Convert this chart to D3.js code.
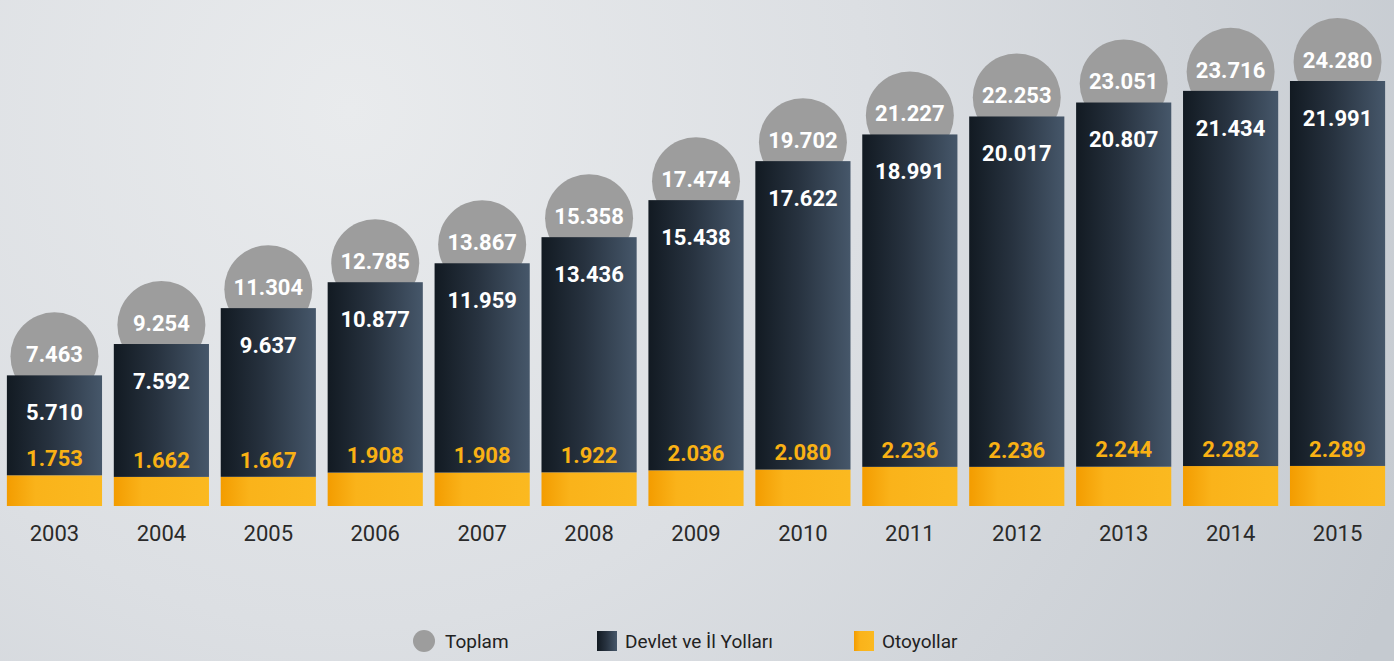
<!DOCTYPE html>
<html lang="tr">
<head>
<meta charset="utf-8">
<script src="https://cdn.jsdelivr.net/npm/d3@7"></script>
<style>
    html, body { margin: 0; padding: 0; }
    body { width: 1394px; height: 661px; overflow: hidden; }
    svg text { font-family: Roboto, "Open Sans", sans-serif; }
</style>
</head>
<body>
<div id="chart"></div>
<script>
const years = ["2003", "2004", "2005", "2006", "2007", "2008", "2009", "2010", "2011", "2012", "2013", "2014", "2015"];
const devletYollari = [5710, 7592, 9637, 10877, 11959, 13436, 15438, 17622, 18991, 20017, 20807, 21434, 21991];
const otoyollar = [1753, 1662, 1667, 1908, 1908, 1922, 2036, 2080, 2236, 2236, 2244, 2282, 2289];
const toplam = [7463, 9254, 11304, 12785, 13867, 15358, 17474, 19702, 21227, 22253, 23051, 23716, 24280];
const legendLabels = ["Toplam", "Devlet ve İl Yolları", "Otoyollar"];

const data = years.map((year, i) => ({
    year,
    otoyol: otoyollar[i],
    devlet: devletYollari[i],
    toplam: toplam[i]
}));

const width = 1394;
const height = 661;
const baseY = 506;

const fmt = d3.formatLocale({ decimal: ",", thousands: ".", grouping: [3], currency: ["", ""] }).format(",d");

const svg = d3.select("#chart").append("svg")
    .attr("width", width)
    .attr("height", height)
    .attr("viewBox", `0 0 ${width} ${height}`);

const defs = svg.append("defs");

const bg = defs.append("radialGradient")
    .attr("id", "bg")
    .attr("gradientUnits", "userSpaceOnUse")
    .attr("cx", 350).attr("cy", 110).attr("r", 1150);
bg.append("stop").attr("offset", "0%").attr("stop-color", "#e9ebed");
bg.append("stop").attr("offset", "45%").attr("stop-color", "#dcdfe3");
bg.append("stop").attr("offset", "100%").attr("stop-color", "#c5cad0");

const darkGrad = defs.append("linearGradient").attr("id", "dark");
darkGrad.append("stop").attr("offset", "0%").attr("stop-color", "#121a22");
darkGrad.append("stop").attr("offset", "45%").attr("stop-color", "#27323f");
darkGrad.append("stop").attr("offset", "100%").attr("stop-color", "#46576a");

const orangeGrad = defs.append("linearGradient").attr("id", "orange");
orangeGrad.append("stop").attr("offset", "0%").attr("stop-color", "#f39c00");
orangeGrad.append("stop").attr("offset", "30%").attr("stop-color", "#fab31a");
orangeGrad.append("stop").attr("offset", "100%").attr("stop-color", "#fbb920");

svg.append("rect")
    .attr("width", width)
    .attr("height", height)
    .attr("fill", "url(#bg)");

const x = d3.scaleBand()
    .domain(years)
    .range([1, 1391])
    .paddingInner(0.11)
    .paddingOuter(0.055);

const y = d3.scaleLinear()
    .domain([0, d3.max(toplam)])
    .range([baseY, baseY - 425]);

const stack = d3.stack().keys(["otoyol", "devlet"]);
const series = stack(data);

// gray total circles sit behind the bars
svg.append("g")
    .selectAll("circle")
    .data(data)
    .join("circle")
    .attr("cx", d => x(d.year) + x.bandwidth() / 2)
    .attr("cy", d => y(d.toplam) - 19)
    .attr("r", 44)
    .attr("fill", "#9d9d9d");

svg.append("g")
    .selectAll("g")
    .data(series)
    .join("g")
    .attr("fill", s => s.key === "otoyol" ? "url(#orange)" : "url(#dark)")
    .selectAll("rect")
    .data(s => s)
    .join("rect")
    .attr("x", d => x(d.data.year))
    .attr("y", d => y(d[1]))
    .attr("width", x.bandwidth())
    .attr("height", d => y(d[0]) - y(d[1]));

const labels = svg.append("g")
    .attr("text-anchor", "middle")
    .style("font-size", "22px")
    .style("font-weight", "700");

labels.selectAll("text.total")
    .data(data)
    .join("text")
    .attr("class", "total")
    .attr("x", d => x(d.year) + x.bandwidth() / 2)
    .attr("y", d => y(d.toplam) - 21)
    .attr("dy", "0.35em")
    .attr("fill", "#ffffff")
    .text(d => fmt(d.toplam));

labels.selectAll("text.devlet")
    .data(data)
    .join("text")
    .attr("class", "devlet")
    .attr("x", d => x(d.year) + x.bandwidth() / 2)
    .attr("y", d => y(d.toplam) + 37)
    .attr("dy", "0.35em")
    .attr("fill", "#ffffff")
    .text(d => fmt(d.devlet));

labels.selectAll("text.otoyol")
    .data(data)
    .join("text")
    .attr("class", "otoyol")
    .attr("x", d => x(d.year) + x.bandwidth() / 2)
    .attr("y", d => y(d.otoyol) - 17)
    .attr("dy", "0.35em")
    .attr("fill", "#f9b114")
    .text(d => fmt(d.otoyol));

// year axis, no line or ticks
const xAxis = svg.append("g")
    .attr("transform", `translate(0,${baseY})`)
    .call(d3.axisBottom(x).tickSize(0).tickPadding(19));
xAxis.select(".domain").remove();
xAxis.selectAll("text")
    .attr("fill", "#2a2a2a")
    .style("font-size", "22px")
    .style("font-family", "Roboto, sans-serif");

// legend
const legend = svg.append("g")
    .style("font-size", "19px")
    .attr("fill", "#222");

legend.append("circle")
    .attr("cx", 424).attr("cy", 641).attr("r", 11)
    .attr("fill", "#9d9d9d");
legend.append("rect")
    .attr("x", 597).attr("y", 631).attr("width", 20).attr("height", 20)
    .attr("fill", "url(#dark)");
legend.append("rect")
    .attr("x", 854).attr("y", 631).attr("width", 20).attr("height", 20)
    .attr("fill", "url(#orange)");

legend.selectAll("text")
    .data(legendLabels)
    .join("text")
    .attr("x", (d, i) => [445, 625, 882][i])
    .attr("y", 641)
    .attr("dy", "0.35em")
    .text(d => d);
</script>
</body>
</html>
